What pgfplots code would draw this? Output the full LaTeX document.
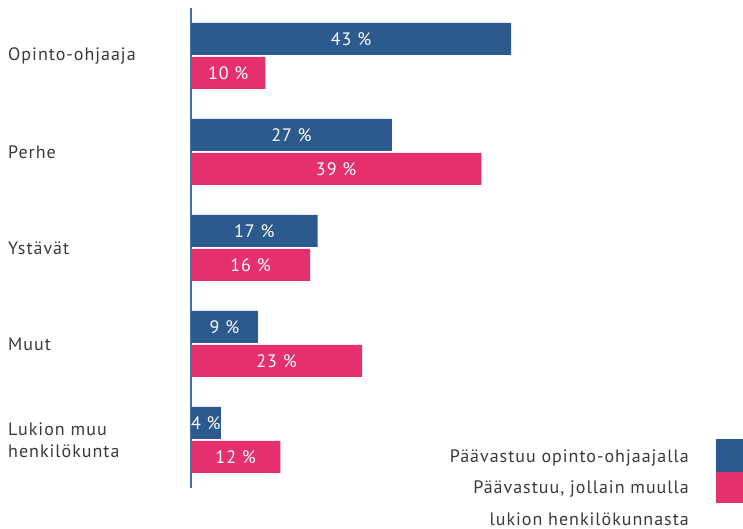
\documentclass[border=0pt]{standalone}
\usepackage{pgfplots}
\usepackage{pgfplotstable}
\pgfplotsset{compat=1.18}
\usepackage{fontspec}
\setmainfont{PT Sans}[LetterSpace=5.5]
\definecolor{cblue}{HTML}{2D5A8E}
\definecolor{cpink}{HTML}{E4306C}
\definecolor{ctext}{HTML}{3A3A3A}
\definecolor{caxis}{HTML}{4A6E9E}

\pgfplotstableread{
cat blue pink
4 43 10
3 27 39
2 17 16
1 9 23
0 4 12
}\data

\begin{document}
\begin{tikzpicture}[x=1pt,y=1pt]
\path[use as bounding box] (0,0) rectangle (743,529);
\begin{axis}[
  at={(191pt,41pt)}, anchor=south west,
  scale only axis, width=552pt, height=480pt,
  xmin=0, xmax=74.17, ymin=-0.5, ymax=4.5,
  axis x line=none, axis y line*=left,
  y axis line style={draw=caxis, line width=1.2pt, -},
  ytick={0,...,4},
  yticklabels={{Lukion muu\\henkilökunta},Muut,Ystävät,Perhe,Opinto-ohjaaja},
  yticklabel style={anchor=west, align=left, text width=175pt, xshift=-183pt, inner sep=0pt,
    font=\fontsize{18}{22}\selectfont, text=ctext},
  major tick length=0pt,
  clip=false,
]
\addplot[xbar, bar width=32pt, bar shift=17pt, fill=cblue, draw=none] table[x=blue,y=cat]{\data};
\addplot[xbar, bar width=32pt, bar shift=-17pt, fill=cpink, draw=none] table[x=pink,y=cat]{\data};
\addplot[only marks, mark=*, mark size=0pt, mark options={draw=none,fill=none},
  point meta=explicit symbolic,
  nodes near coords={\pgfplotspointmeta~\%},
  nodes near coords style={anchor=center, text=white, font=\fontsize{18}{20}\selectfont, inner sep=0pt}]
  table[x expr=\thisrow{blue}/2, y expr=\thisrow{cat}+0.17708, meta=blue]{\data};
\addplot[only marks, mark=*, mark size=0pt, mark options={draw=none,fill=none},
  point meta=explicit symbolic,
  nodes near coords={\pgfplotspointmeta~\%},
  nodes near coords style={anchor=center, text=white, font=\fontsize{18}{20}\selectfont, inner sep=0pt}]
  table[x expr=\thisrow{pink}/2, y expr=\thisrow{cat}-0.17708, meta=pink]{\data};
\end{axis}
\fill[cblue] (716,57) rectangle (743,90);
\fill[cpink] (716,26) rectangle (743,57);
\begin{scope}[every node/.style={anchor=base east, inner sep=0pt, text=ctext, font=\fontsize{18}{20}\selectfont}]
\node at (689,66.3) {Päävastuu opinto-ohjaajalla};
\node at (689,35) {Päävastuu, jollain muulla};
\node at (689,3.5) {lukion henkilökunnasta};
\end{scope}
\end{tikzpicture}
\end{document}
